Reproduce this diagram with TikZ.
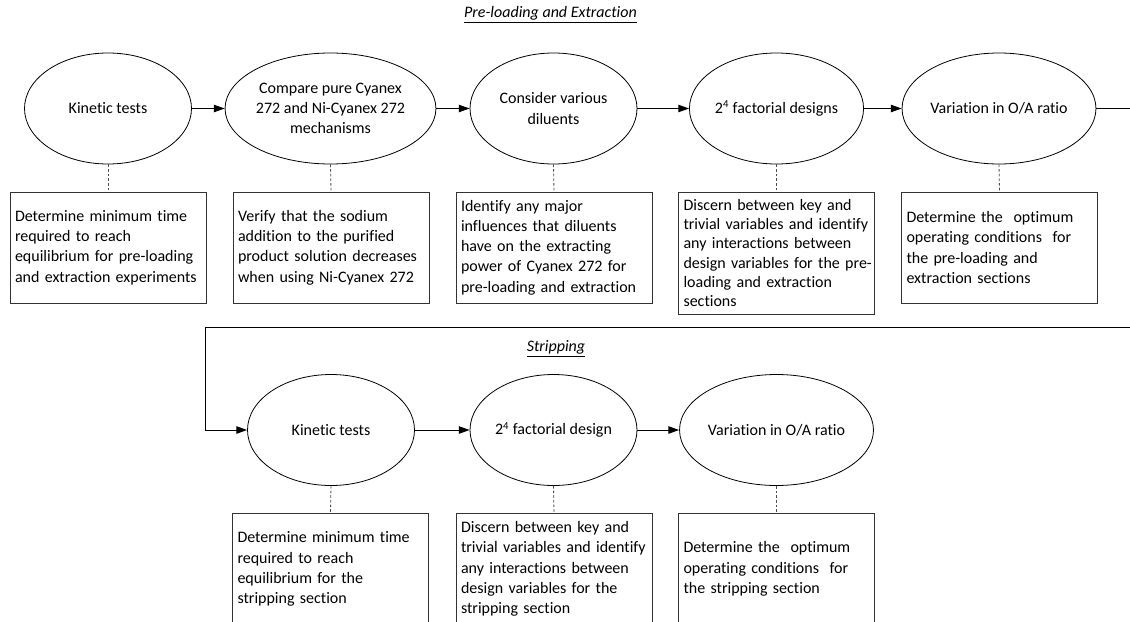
\documentclass[tikz,border=0pt]{standalone}
\usepackage{fontspec}
\setmainfont{Carlito}[Ligatures=NoCommon]
\usetikzlibrary{arrows.meta,shapes.geometric}
\begin{document}
\begin{tikzpicture}[x=0.75pt,y=-0.75pt,
  font=\fontsize{12pt}{15.2pt}\selectfont,
  oval/.style={draw=black, line width=0.6pt, ellipse, minimum width=125.25pt, minimum height=83.25pt, inner sep=0pt, align=center},
  stepbox/.style={draw=black!80, line width=0.7pt, rectangle, minimum width=147pt, minimum height=83.25pt, text width=139.5pt, inner xsep=3.75pt, inner ysep=0pt, align=left,
    execute at begin node={\hyphenpenalty=10000\exhyphenpenalty=10000}},
  flow/.style={draw=black, line width=0.75pt, -{Triangle[length=8pt,width=5.5pt]}},
  plain/.style={draw=black, line width=0.75pt},
  link/.style={draw=black!70, line width=0.6pt, dash pattern=on 2pt off 1.5pt},
  heading/.style={font=\fontsize{12pt}{15.2pt}\selectfont\itshape, inner sep=0pt}
]
\clip (0,0) rectangle (1130,621);
\fill[white] (0,0) rectangle (1130,621);

% titles
\node[heading] (t1) at (550.5,15) {\underline{Pre-loading and Extraction}};
\node[heading] (t2) at (556,349) {\underline{Stripping}};

% row 1 ellipses
\node[oval] (e1) at (108,108.5) {Kinetic tests};
\node[oval] (e2) at (330.5,108.5) {Compare pure Cyanex\\272 and Ni-Cyanex 272\\mechanisms};
\node[oval] (e3) at (553.5,108.5) {Consider various\\diluents};
\node[oval] (e4) at (776.5,108.5) {2\textsuperscript{4} factorial designs};
\node[oval] (e5) at (999,108.5) {Variation in O/A ratio};

% row 1 boxes
\node[stepbox] (b1) at (108,247.5) {Determine minimum time\\required to reach\\equilibrium for pre-loading\\and extraction experiments};
\node[stepbox] (b2) at (331,247.5) {Verify that the sodium\\addition to the purified\\product solution decreases\\when using Ni-Cyanex 272};
\node[stepbox] (b3) at (554,247.5) {Identify any major\\influences that diluents\\have on the extracting\\power of Cyanex 272 for\\pre-loading and extraction};
\node[stepbox, minimum height=91.5pt, font=\fontsize{12pt}{14.5pt}\selectfont] (b4) at (776.5,253) {Discern between key and\\trivial variables and identify\\any interactions between\\\mbox{design variables for the pre-}\\loading and extraction\\sections};
\node[stepbox] (b5) at (999.5,247.5) {Determine the~ optimum\\operating conditions~ for\\the pre-loading and\\extraction sections};

% row 2 ellipses
\node[oval] (k2) at (331,430) {Kinetic tests};
\node[oval] (f2) at (553.5,430) {2\textsuperscript{4} factorial design};
\node[oval] (v2) at (776.5,430) {Variation in O/A ratio};

% row 2 boxes
\node[stepbox, minimum height=84pt] (c1) at (330.5,569) {Determine minimum time\\required to reach\\equilibrium for the\\stripping section};
\node[stepbox, minimum height=84pt] (c2) at (554,569) {Discern between key and\\trivial variables and identify\\any interactions between\\design variables for the\\stripping section};
\node[stepbox, minimum height=84pt] (c3) at (776.5,569) {Determine the~ optimum\\operating conditions~ for\\the stripping section};

% free ends
\coordinate (exitR) at (1131,108.5);
\coordinate (loopR) at (1131,327);
\coordinate (loopL) at (205,327);

% row 1 flow
\draw[flow] (e1) -- (e2);
\draw[flow] (e2) -- (e3);
\draw[flow] (e3) -- (e4);
\draw[flow] (e4) -- (e5);
\draw[plain] (e5) -- (exitR);

% loop to row 2
\draw[flow] (loopR) -- (loopL) |- (k2.west);
\draw[flow] (k2) -- (f2);
\draw[flow] (f2) -- (v2);

% dashed links
\draw[link] (e1.south) -- (b1.north);
\draw[link] (e2.south) -- (b2.north);
\draw[link] (e3.south) -- (b3.north);
\draw[link] (e4.south) -- (b4.north);
\draw[link] (e5.south) -- (b5.north);
\draw[link] (k2.south) -- (c1.north);
\draw[link] (f2.south) -- (c2.north);
\draw[link] (v2.south) -- (c3.north);
\end{tikzpicture}
\end{document}
